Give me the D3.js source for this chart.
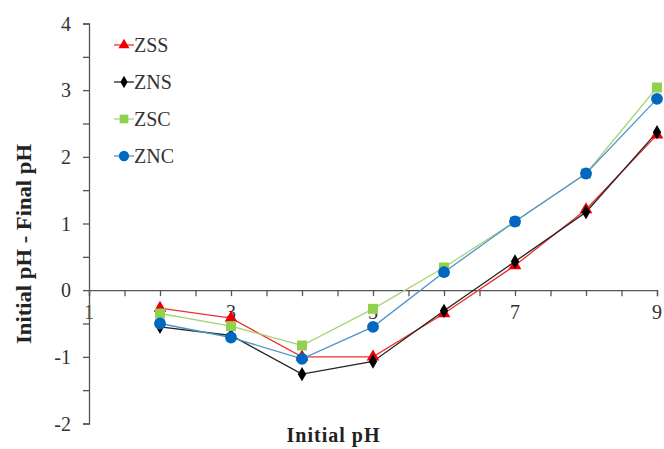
<!DOCTYPE html>
<html lang="en">
<head>
  <meta charset="UTF-8">
  <title>pH drift</title>
  <script src="https://cdn.jsdelivr.net/npm/d3@7"></script>
  <style>
    body { margin: 0; background: #fff; }
    svg text { font-family: "Liberation Serif", "Times New Roman", "DejaVu Serif", serif; }
  </style>
</head>
<body>
<svg></svg>
<script>
  const width = 664, height = 449

  const initialPH = [2, 3, 4, 5, 6, 7, 8, 9]
  const zss = [-0.27, -0.42, -1.00, -1.00, -0.35, 0.37, 1.21, 2.33]
  const zns = [-0.55, -0.68, -1.26, -1.07, -0.31, 0.43, 1.17, 2.37]
  const zsc = [-0.35, -0.54, -0.83, -0.28, 0.34, 1.03, 1.75, 3.04]
  const znc = [-0.50, -0.71, -1.03, -0.55, 0.27, 1.03, 1.75, 2.87]
  const xTickLabels = [1, 3, 5, 7, 9]
  const yTickLabels = [-2, -1, 0, 1, 2, 3, 4]

  const series = [
    {name: 'ZSS', values: zss, line: '#f03030', fill: '#ee0000', shape: d3.symbolTriangle, size: 70},
    {name: 'ZNS', values: zns, line: '#222', fill: '#000', shape: d3.symbolDiamond, size: 60},
    {name: 'ZSC', values: zsc, line: '#a6d47a', fill: '#92d050', shape: d3.symbolSquare, size: 100},
    {name: 'ZNC', values: znc, line: '#4f93c8', fill: '#0068c0', shape: d3.symbolCircle, size: 110}
  ]

  const svg = d3.select('svg')
      .attr('width', width)
      .attr('height', height)

  const x = d3.scaleLinear()
      .domain([1, 9])
      .range([89, 657])

  const y = d3.scaleLinear()
      .domain([-2, 4])
      .range([423.5, 23.5])

  // x axis crosses at y = 0
  const xAxis = svg.append('g')
      .attr('transform', `translate(0,${y(0)})`)
      .call(d3.axisBottom(x).tickValues(d3.range(1, 9.01, 0.5)).tickSize(6).tickFormat(''))
  xAxis.select('.domain').attr('stroke', '#555').attr('stroke-width', 1.3)
  xAxis.selectAll('.tick line').attr('stroke', '#555').attr('stroke-width', 1.3)

  svg.append('g')
      .selectAll('text')
      .data(xTickLabels)
      .join('text')
      .attr('x', d => x(d))
      .attr('y', y(0) + 29)
      .attr('text-anchor', 'middle')
      .attr('font-size', 20)
      .attr('fill', '#333')
      .text(d => d)

  // y axis
  const yAxis = svg.append('g')
      .attr('transform', `translate(${x(1)},0)`)
      .call(d3.axisLeft(y).tickValues(d3.range(-2, 4.01, 0.5)).tickSize(6).tickFormat(''))
  yAxis.select('.domain').attr('stroke', '#555').attr('stroke-width', 1.3)
  yAxis.selectAll('.tick line').attr('stroke', '#555').attr('stroke-width', 1.3)

  svg.append('g')
      .selectAll('text')
      .data(yTickLabels)
      .join('text')
      .attr('x', x(1) - 18)
      .attr('y', d => y(d) + 7)
      .attr('text-anchor', 'end')
      .attr('font-size', 20)
      .attr('fill', '#333')
      .text(d => d)

  const line = d3.line()
      .x((d, i) => x(initialPH[i]))
      .y(d => y(d))

  series.forEach(s => {
    svg.append('path')
        .attr('fill', 'none')
        .attr('stroke', s.line)
        .attr('stroke-width', 1.3)
        .attr('d', line(s.values))
  })

  series.forEach(s => {
    svg.append('g')
        .selectAll('path')
        .data(s.values)
        .join('path')
        .attr('transform', (d, i) => `translate(${x(initialPH[i])},${y(d)})`)
        .attr('d', d3.symbol(s.shape, s.size))
        .attr('fill', s.fill)
  })

  // legend
  const legend = svg.append('g')
      .selectAll('g')
      .data(series)
      .join('g')
      .attr('transform', (d, i) => `translate(114,${45 + i * 37})`)
  legend.append('line')
      .attr('x1', 0).attr('x2', 20)
      .attr('stroke', d => d.line)
      .attr('stroke-width', 1.3)
  legend.append('path')
      .attr('transform', 'translate(10,0)')
      .attr('d', d => d3.symbol(d.shape, d.size * 0.75)())
      .attr('fill', d => d.fill)
  legend.append('text')
      .attr('x', 20)
      .attr('y', 7)
      .attr('font-size', 20)
      .attr('fill', '#333')
      .text(d => d.name)

  // axis titles
  svg.append('text')
      .attr('x', 333)
      .attr('y', 442)
      .attr('text-anchor', 'middle')
      .attr('font-size', 20)
      .attr('font-weight', 'bold')
      .attr('fill', '#222')
      .attr('textLength', 93)
      .text('Initial pH')

  svg.append('text')
      .attr('transform', 'translate(31,244) rotate(-90)')
      .attr('text-anchor', 'middle')
      .attr('font-size', 21)
      .attr('font-weight', 'bold')
      .attr('fill', '#222')
      .attr('textLength', 200)
      .attr('lengthAdjust', 'spacingAndGlyphs')
      .text('Initial pH - Final pH')
</script>
</body>
</html>
